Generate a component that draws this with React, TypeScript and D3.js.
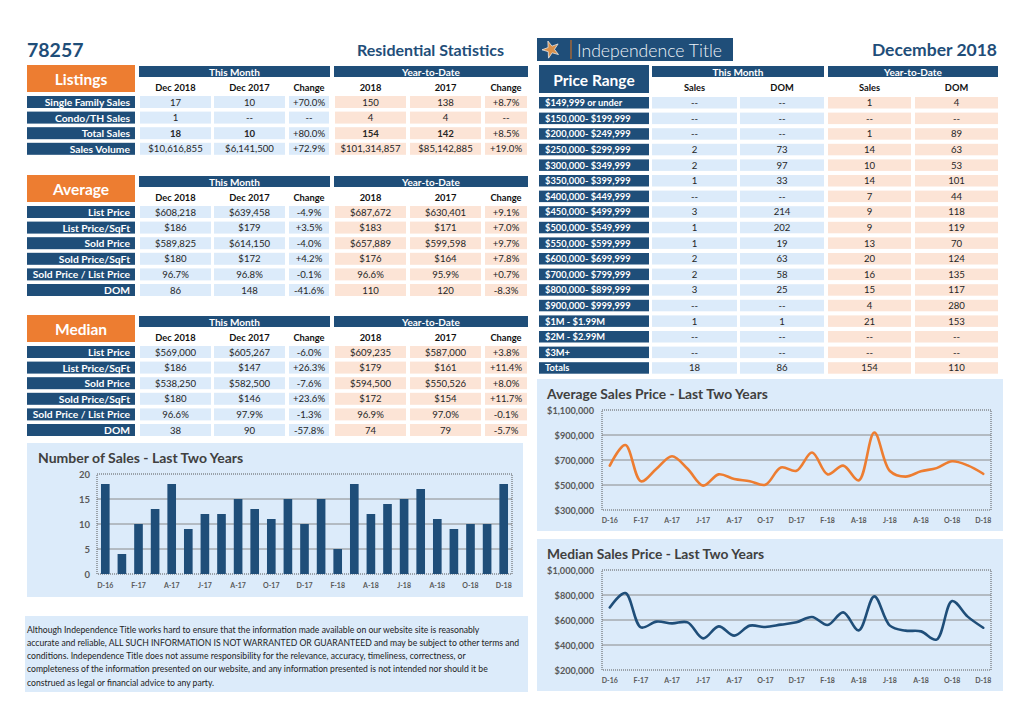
import React from "react";
import * as d3 from "d3";

// ---------- DATA ----------
const monthLabels = ["D-16","J-17","F-17","M-17","A-17","M-17","J-17","J-17","A-17","S-17","O-17","N-17","D-17","J-18","F-18","M-18","A-18","M-18","J-18","J-18","A-18","S-18","O-18","N-18","D-18"];
const salesCounts = [18,4,10,13,18,9,12,12,15,13,11,15,10,15,5,18,12,14,15,17,11,9,10,10,18];
const avgPrices = [655000,820000,530000,630000,730000,630000,495000,585000,548000,530000,502000,640000,614150,760000,585000,655000,537000,920000,612000,567000,610000,635000,690000,657000,589825];
const medianPrices = [700000,816000,541000,587000,573000,581000,453000,549000,475000,555000,544000,563000,582500,624000,560000,661000,517000,789000,555000,515000,509000,443000,752000,627000,538250];
const salesTicks = [0,5,10,15,20];
const avgTicks = [300000,500000,700000,900000,1100000];
const medianTicks = [200000,400000,600000,800000,1000000];

const monthHeaders = ["Dec 2018","Dec 2017","Change"];
const ytdHeaders = ["2018","2017","Change"];

const listingLabels = ["Single Family Sales","Condo/TH Sales","Total Sales","Sales Volume"];
const listingM18 = ["17","1","18","$10,616,855"];
const listingM17 = ["10","--","10","$6,141,500"];
const listingMChg = ["+70.0%","--","+80.0%","+72.9%"];
const listingY18 = ["150","4","154","$101,314,857"];
const listingY17 = ["138","4","142","$85,142,885"];
const listingYChg = ["+8.7%","--","+8.5%","+19.0%"];

const avgLabels = ["List Price","List Price/SqFt","Sold Price","Sold Price/SqFt","Sold Price / List Price","DOM"];
const avgM18 = ["$608,218","$186","$589,825","$180","96.7%","86"];
const avgM17 = ["$639,458","$179","$614,150","$172","96.8%","148"];
const avgMChg = ["-4.9%","+3.5%","-4.0%","+4.2%","-0.1%","-41.6%"];
const avgY18 = ["$687,672","$183","$657,889","$176","96.6%","110"];
const avgY17 = ["$630,401","$171","$599,598","$164","95.9%","120"];
const avgYChg = ["+9.1%","+7.0%","+9.7%","+7.8%","+0.7%","-8.3%"];

const medLabels = avgLabels;
const medM18 = ["$569,000","$186","$538,250","$180","96.6%","38"];
const medM17 = ["$605,267","$147","$582,500","$146","97.9%","90"];
const medMChg = ["-6.0%","+26.3%","-7.6%","+23.6%","-1.3%","-57.8%"];
const medY18 = ["$609,235","$179","$594,500","$172","96.9%","74"];
const medY17 = ["$587,000","$161","$550,526","$154","97.0%","79"];
const medYChg = ["+3.8%","+11.4%","+8.0%","+11.7%","-0.1%","-5.7%"];

const priceRanges = ["$149,999 or under","$150,000- $199,999","$200,000- $249,999","$250,000- $299,999","$300,000- $349,999","$350,000- $399,999","$400,000- $449,999","$450,000- $499,999","$500,000- $549,999","$550,000- $599,999","$600,000- $699,999","$700,000- $799,999","$800,000- $899,999","$900,000- $999,999","$1M - $1.99M","$2M - $2.99M","$3M+","Totals"];
const prMonthSales = ["--","--","--","2","2","1","--","3","1","1","2","2","3","--","1","--","--","18"];
const prMonthDom = ["--","--","--","73","97","33","--","214","202","19","63","58","25","--","1","--","--","86"];
const prYtdSales = ["1","--","1","14","10","14","7","9","9","13","20","16","15","4","21","--","--","154"];
const prYtdDom = ["4","--","89","63","53","101","44","118","119","70","124","135","117","280","153","--","--","110"];

const disclaimer = [
  "Although Independence Title works hard to ensure that the information made available on our website site is reasonably",
  "accurate and reliable, ALL SUCH INFORMATION IS NOT WARRANTED OR GUARANTEED and may be subject to other terms and",
  "conditions. Independence Title does not assume responsibility for the relevance, accuracy, timeliness, correctness, or",
  "completeness of the information presented on our website, and any information presented is not intended nor should it be",
  "construed as legal or financial advice to any party.",
];

// ---------- STYLE ----------
const FONT = "Lato, 'Open Sans', sans-serif";
const NAVY = "#1f4e79";
const ORANGE = "#ed7d31";
const LBLUE = "#dcebfa";
const PEACH = "#fce4d6";
const TXT = "#262626";
const GRAY = "#595959";

const leftCols: [number, number][] = [[140,211],[214,285],[289,329],[335,406],[410,481],[485,527]];
const ROW_PITCH = 15.6;
const ROW_H = 12;

function StatTable({ top, title, labels, cols, boldRow }: { top: number; title: string; labels: string[]; cols: string[][]; boldRow?: number }) {
  const rowTop = top + 31;
  return (
    <g>
      <rect x={27} y={top} width={108} height={27} fill={ORANGE} />
      <text x={81} y={top + 14} textAnchor="middle" dominantBaseline="central" fill="#fff" fontWeight={700} fontSize={15.5}>{title}</text>
      <rect x={139} y={top + 1} width={191} height={11} fill={NAVY} />
      <text x={234.5} y={top + 6.5} textAnchor="middle" dominantBaseline="central" fill="#fff" fontWeight={700} fontSize={10}>This Month</text>
      <rect x={334} y={top + 1} width={194} height={11} fill={NAVY} />
      <text x={431} y={top + 6.5} textAnchor="middle" dominantBaseline="central" fill="#fff" fontWeight={700} fontSize={10}>Year-to-Date</text>
      {[...monthHeaders, ...ytdHeaders].map((h, i) => (
        <text key={i} x={(leftCols[i][0] + leftCols[i][1]) / 2} y={top + 22} textAnchor="middle" dominantBaseline="central" fill="#111" fontWeight={700} fontSize={9.3}>{h}</text>
      ))}
      {labels.map((lab, r) => {
        const y = rowTop + r * ROW_PITCH;
        return (
          <g key={r}>
            <rect x={27} y={y} width={108} height={ROW_H} fill={NAVY} />
            <text x={130} y={y + ROW_H / 2} textAnchor="end" dominantBaseline="central" fill="#fff" fontWeight={700} fontSize={10.3}>{lab}</text>
            {cols.map((col, c) => (
              <g key={c}>
                <rect x={leftCols[c][0]} y={y} width={leftCols[c][1] - leftCols[c][0]} height={ROW_H} fill={c < 3 ? LBLUE : PEACH} />
                <text x={(leftCols[c][0] + leftCols[c][1]) / 2} y={y + ROW_H / 2} textAnchor="middle" dominantBaseline="central" fill={TXT} fontSize={9.6} fontWeight={boldRow === r && c !== 2 && c !== 5 ? 700 : 400}>{col[r]}</text>
              </g>
            ))}
          </g>
        );
      })}
    </g>
  );
}

const prCols: [number, number][] = [[652,737],[740,824],[828,911],[915,998]];

function PriceTable() {
  const top = 65;
  const rowTop = 97;
  const cols = [prMonthSales, prMonthDom, prYtdSales, prYtdDom];
  const heads = ["Sales","DOM","Sales","DOM"];
  return (
    <g>
      <rect x={539} y={top} width={110} height={28} fill={NAVY} />
      <text x={594} y={top + 14.5} textAnchor="middle" dominantBaseline="central" fill="#fff" fontWeight={700} fontSize={15.5}>Price Range</text>
      <rect x={652} y={top + 1} width={172} height={11} fill={NAVY} />
      <text x={738} y={top + 6.5} textAnchor="middle" dominantBaseline="central" fill="#fff" fontWeight={700} fontSize={10}>This Month</text>
      <rect x={828} y={top + 1} width={170} height={11} fill={NAVY} />
      <text x={913} y={top + 6.5} textAnchor="middle" dominantBaseline="central" fill="#fff" fontWeight={700} fontSize={10}>Year-to-Date</text>
      {heads.map((h, i) => (
        <text key={i} x={(prCols[i][0] + prCols[i][1]) / 2} y={87} textAnchor="middle" dominantBaseline="central" fill="#111" fontWeight={700} fontSize={9.3}>{h}</text>
      ))}
      {priceRanges.map((lab, r) => {
        const y = rowTop + r * ROW_PITCH;
        return (
          <g key={r}>
            <rect x={539} y={y} width={110} height={11.5} fill={NAVY} />
            <text x={545} y={y + 5.75} dominantBaseline="central" fill="#fff" fontWeight={700} fontSize={9.3}>{lab}</text>
            {cols.map((col, c) => (
              <g key={c}>
                <rect x={prCols[c][0]} y={y} width={prCols[c][1] - prCols[c][0]} height={11.5} fill={c < 2 ? LBLUE : PEACH} />
                <text x={(prCols[c][0] + prCols[c][1]) / 2} y={y + 5.75} textAnchor="middle" dominantBaseline="central" fill={TXT} fontSize={9.6}>{col[r]}</text>
              </g>
            ))}
          </g>
        );
      })}
    </g>
  );
}

function BarChart() {
  const x = d3.scaleBand<number>().domain(d3.range(salesCounts.length)).range([97, 512]).paddingInner(0.48).paddingOuter(0.24);
  const y = d3.scaleLinear().domain([0, 20]).range([574, 474]);
  return (
    <g>
      <rect x={27} y={443} width={496} height={154} fill={LBLUE} />
      <text x={38} y={457} dominantBaseline="central" fill="#404040" fontWeight={700} fontSize={14}>Number of Sales - Last Two Years</text>
      {salesTicks.map((t) => (
        <g key={t}>
          {t > 0 && t < 20 && <line x1={97} x2={512} y1={y(t)} y2={y(t)} stroke="#8a8a8a" strokeWidth={1} />}
          <text x={90} y={y(t)} textAnchor="end" dominantBaseline="central" fill={GRAY} fontSize={9.5} fontWeight={700}>{t}</text>
        </g>
      ))}
      <rect x={97} y={474} width={415} height={100} fill="none" stroke="#595959" strokeWidth={1} strokeDasharray="1,1" />
      {salesCounts.map((v, i) => (
        <rect key={i} x={x(i)} y={y(v)} width={x.bandwidth()} height={574 - y(v)} fill={NAVY} />
      ))}
      {monthLabels.map((m, i) => i % 2 === 0 && (
        <text key={i} x={(x(i) as number) + x.bandwidth() / 2} y={585} textAnchor="middle" dominantBaseline="central" fill={GRAY} fontSize={7} fontWeight={700}>{m}</text>
      ))}
    </g>
  );
}

function LineChart({ top, title, values, ticks, color }: { top: number; title: string; values: number[]; ticks: number[]; color: string }) {
  const plotTop = top + 31;
  const plotBot = top + 131;
  const x = d3.scaleBand<number>().domain(d3.range(values.length)).range([602, 991]).padding(0);
  const y = d3.scaleLinear().domain([ticks[0], ticks[ticks.length - 1]]).range([plotBot, plotTop]);
  const line = d3.line<number>().x((_, i) => (x(i) as number) + x.bandwidth() / 2).y((d) => y(d)).curve(d3.curveCatmullRom.alpha(0.5));
  const fmt = d3.format("$,");
  return (
    <g>
      <rect x={537} y={top} width={466} height={152} fill={LBLUE} />
      <text x={547} y={top + 14} dominantBaseline="central" fill="#404040" fontWeight={700} fontSize={13.8}>{title}</text>
      {ticks.map((t, i) => (
        <g key={t}>
          {i > 0 && i < ticks.length - 1 && <line x1={602} x2={991} y1={y(t)} y2={y(t)} stroke="#8a8a8a" strokeWidth={1} />}
          <text x={594} y={y(t)} textAnchor="end" dominantBaseline="central" fill={GRAY} fontSize={9.2} fontWeight={700}>{fmt(t)}</text>
        </g>
      ))}
      <rect x={602} y={plotTop} width={389} height={100} fill="none" stroke="#595959" strokeWidth={1} strokeDasharray="1,1" />
      <path d={line(values) || ""} fill="none" stroke={color} strokeWidth={2.6} strokeLinecap="round" strokeLinejoin="round" />
      {monthLabels.map((m, i) => i % 2 === 0 && (
        <text key={i} x={(x(i) as number) + x.bandwidth() / 2} y={plotBot + 10} textAnchor="middle" dominantBaseline="central" fill={GRAY} fontSize={7} fontWeight={700}>{m}</text>
      ))}
    </g>
  );
}

function Logo() {
  const cx = 551, cy = 49.5;
  const pts = d3.range(10).map((i) => {
    const r = i % 2 === 0 ? 9 : 3.5;
    const a = -Math.PI / 2 + (i * Math.PI) / 5 - 0.35;
    return [cx + r * Math.cos(a), cy + r * Math.sin(a)].join(",");
  }).join(" ");
  return (
    <g>
      <rect x={537} y={38} width={196} height={23} fill={NAVY} />
      <polygon points={pts} fill="#d9904a" stroke="#e8e8e8" strokeWidth={0.8} />
      <line x1={571} x2={571} y1={40} y2={59} stroke="#b46a2e" strokeWidth={1.3} />
      <text x={577} y={50} dominantBaseline="central" fill="#eef3f8" fontSize={17} fontWeight={300} textLength={145} lengthAdjust="spacingAndGlyphs">Independence Title</text>
    </g>
  );
}

export default function App() {
  return (
    <div style={{ position: "absolute", left: 0, top: 0 }}>
      <svg width={1024} height={709} style={{ display: "block", background: "#fff", fontFamily: FONT }}>
        <text x={27} y={49} dominantBaseline="central" fill={NAVY} fontWeight={700} fontSize={19.5}>78257</text>
        <text x={504} y={49} textAnchor="end" dominantBaseline="central" fill={NAVY} fontWeight={700} fontSize={16}>Residential Statistics</text>
        <text x={997} y={49} textAnchor="end" dominantBaseline="central" fill={NAVY} fontWeight={700} fontSize={17.5}>December 2018</text>
        <Logo />
        <StatTable top={65} title="Listings" labels={listingLabels} cols={[listingM18, listingM17, listingMChg, listingY18, listingY17, listingYChg]} boldRow={2} />
        <StatTable top={175} title="Average" labels={avgLabels} cols={[avgM18, avgM17, avgMChg, avgY18, avgY17, avgYChg]} />
        <StatTable top={315} title="Median" labels={medLabels} cols={[medM18, medM17, medMChg, medY18, medY17, medYChg]} />
        <PriceTable />
        <BarChart />
        <LineChart top={379} title="Average Sales Price - Last Two Years" values={avgPrices} ticks={avgTicks} color={ORANGE} />
        <LineChart top={539} title="Median Sales Price - Last Two Years" values={medianPrices} ticks={medianTicks} color={NAVY} />
        <rect x={25} y={616} width={503} height={76} fill={LBLUE} />
        {disclaimer.map((l, i) => (
          <text key={i} x={27} y={629 + i * 13.3} dominantBaseline="central" fill="#222" fontSize={8.65}>{l}</text>
        ))}
      </svg>
    </div>
  );
}
